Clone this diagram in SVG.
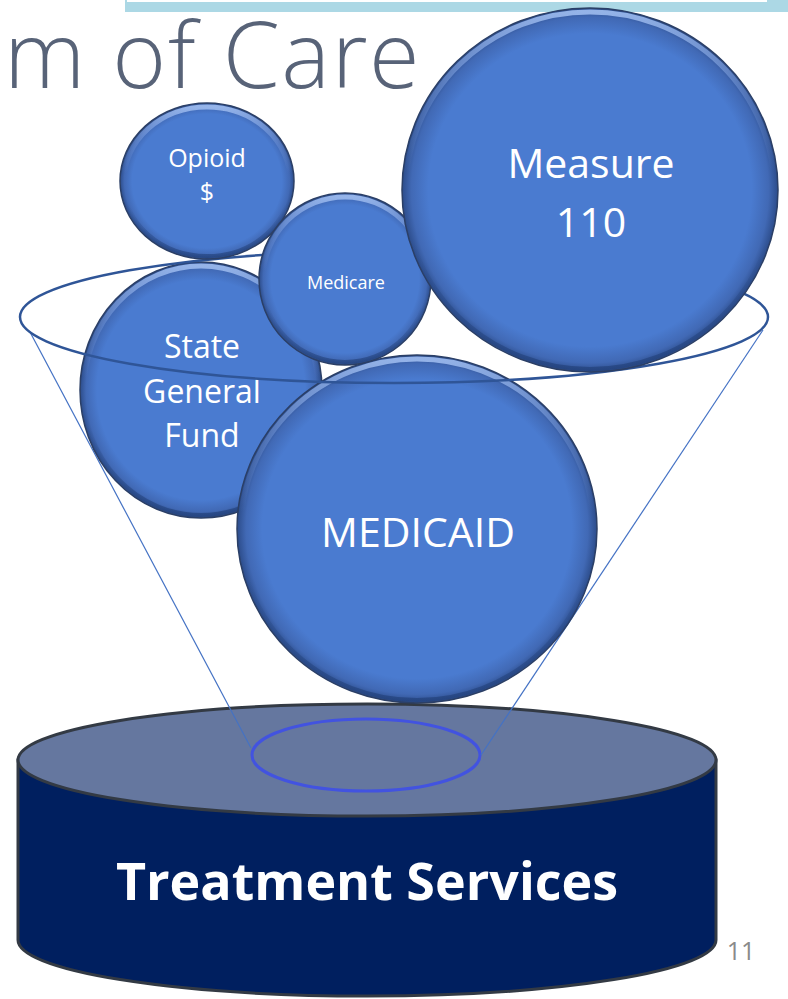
<svg xmlns="http://www.w3.org/2000/svg" width="788" height="999" viewBox="0 0 788 999">
<defs>
<radialGradient id="ballFill" cx="50%" cy="50%" r="50%">
<stop offset="0%" stop-color="#4a7bd0"/>
<stop offset="86%" stop-color="#4a7bd0"/>
<stop offset="95%" stop-color="#4169b5"/>
<stop offset="100%" stop-color="#2c4c8a"/>
</radialGradient>
<linearGradient id="hiLite" x1="0" y1="0" x2="0" y2="1">
<stop offset="0%" stop-color="#9fbdf0" stop-opacity="0.9"/>
<stop offset="25%" stop-color="#7fa2e4" stop-opacity="0.35"/>
<stop offset="45%" stop-color="#7fa2e4" stop-opacity="0"/>
<stop offset="100%" stop-color="#7fa2e4" stop-opacity="0"/>
</linearGradient>
<linearGradient id="lowShade" x1="0" y1="0" x2="0" y2="1">
<stop offset="0%" stop-color="#1f3d75" stop-opacity="0"/>
<stop offset="65%" stop-color="#1f3d75" stop-opacity="0"/>
<stop offset="100%" stop-color="#1f3d75" stop-opacity="0.6"/>
</linearGradient>
</defs>
<style>
.ball{fill:url(#ballFill);stroke:#2b3f66;stroke-width:1.5}
.hi{fill:none;stroke:url(#hiLite);stroke-width:5}
.lo{fill:none;stroke:url(#lowShade);stroke-width:4}
.lbl{font-family:"Open Sans","Noto Sans","Liberation Sans",sans-serif;fill:#ffffff;text-anchor:middle}
.funnel{fill:none;stroke:#4472c4;stroke-width:1.2}
</style>

<rect x="125" y="0" width="663" height="12" fill="#acd8e5"/>
<rect x="127" y="0" width="640" height="2" fill="#ffffff"/>
<text x="4" y="88" font-family="'Open Sans','Noto Sans','Liberation Sans',sans-serif" font-size="92" font-weight="300" letter-spacing="1.6" fill="#586378">m of Care</text>

<g id="treatment-services">
<path d="M18,760 L18,940 A349,56 0 0 0 716,940 L716,760 Z" fill="#001f5f" stroke="#333a44" stroke-width="3"/>
<ellipse cx="367" cy="760" rx="349" ry="56" fill="#65779f" stroke="#333a44" stroke-width="3"/>
<ellipse cx="366" cy="755" rx="114" ry="36" fill="none" stroke="#4253e0" stroke-width="3"/>
<text class="lbl" x="367" y="900" font-size="52" font-weight="bold">Treatment Services</text>
</g>

<g id="connectors">
<line class="funnel" x1="30" y1="332" x2="251" y2="748"/>
<line class="funnel" x1="763" y1="330" x2="481" y2="755"/>
</g>

<g id="state-general-fund">
<ellipse class="ball" cx="201" cy="390" rx="121" ry="128"/>
<ellipse class="hi" cx="201" cy="390" rx="117" ry="124"/>
<ellipse class="lo" cx="201" cy="390" rx="118" ry="125"/>
<text class="lbl" x="202" y="358" font-size="32">State</text>
<text class="lbl" x="202" y="403" font-size="32">General</text>
<text class="lbl" x="202" y="447" font-size="32">Fund</text>
</g>

<g id="medicaid">
<ellipse class="ball" cx="417" cy="529" rx="180" ry="174"/>
<ellipse class="hi" cx="417" cy="529" rx="176" ry="170"/>
<ellipse class="lo" cx="417" cy="529" rx="177" ry="171"/>
<text class="lbl" x="418" y="547" font-size="41">MEDICAID</text>
</g>

<g id="funnel-rim">
<ellipse cx="394" cy="317" rx="374" ry="66" fill="none" stroke="#2f5597" stroke-width="2.5"/>
</g>

<g id="opioid">
<ellipse class="ball" cx="207" cy="181" rx="87" ry="78"/>
<ellipse class="hi" cx="207" cy="181" rx="83" ry="74"/>
<ellipse class="lo" cx="207" cy="181" rx="84" ry="75"/>
<text class="lbl" x="207" y="167" font-size="25">Opioid</text>
<text class="lbl" x="207" y="201" font-size="25">$</text>
</g>

<g id="medicare">
<ellipse class="ball" cx="345" cy="279" rx="86" ry="86"/>
<ellipse class="hi" cx="345" cy="279" rx="82" ry="82"/>
<ellipse class="lo" cx="345" cy="279" rx="83" ry="83"/>
<text class="lbl" x="346" y="289" font-size="18">Medicare</text>
</g>

<g id="measure-110">
<ellipse class="ball" cx="590" cy="190" rx="188" ry="182"/>
<ellipse class="hi" cx="590" cy="190" rx="184" ry="178"/>
<ellipse class="lo" cx="590" cy="190" rx="185" ry="179"/>
<text class="lbl" x="591" y="178" font-size="41">Measure</text>
<text class="lbl" x="591" y="237" font-size="41">110</text>
</g>

<text x="741" y="960" font-family="'Open Sans','Noto Sans','Liberation Sans',sans-serif" font-size="25" fill="#8a8a8a" text-anchor="middle">11</text>
</svg>
